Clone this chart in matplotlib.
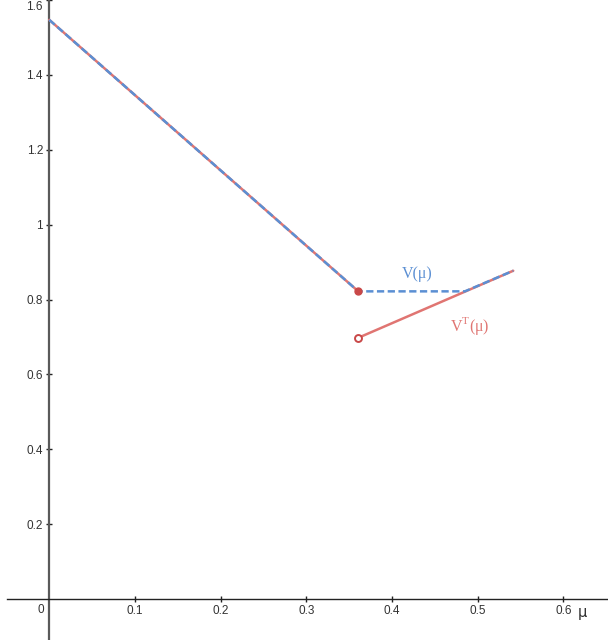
import matplotlib
matplotlib.use("Agg")
import matplotlib.pyplot as plt
from matplotlib.transforms import ScaledTranslation

plt.rcParams["mathtext.fontset"] = "custom"
plt.rcParams["mathtext.rm"] = "Liberation Serif"

# V(mu): value function (blue dashed)
mu_v = [0.0, 0.3606, 0.485, 0.5414]
v_vals = [1.547, 0.822, 0.822, 0.877]

# V^T(mu): two pieces (red)
mu_t1 = [0.0, 0.3606]
vt1 = [1.547, 0.822]
mu_t2 = [0.3606, 0.5414]
vt2 = [0.698, 0.877]

xticks = [0.1, 0.2, 0.3, 0.4, 0.5, 0.6]
yticks = [0.2, 0.4, 0.6, 0.8, 1.0, 1.2, 1.4, 1.6]
ytick_labels = ["0.2", "0.4", "0.6", "0.8", "1", "1.2", "1.4", "1.6"]

blue = "#5b8fd3"
red = "#e07572"
dot_red = "#c94848"

fig = plt.figure(figsize=(6.08, 6.4), dpi=100)
ax = fig.add_axes([0, 0, 1, 1])
ax.set_xlim(-0.0575, 0.652)
ax.set_ylim(-0.109, 1.597)

# axes through the origin
for side in ["top", "right"]:
    ax.spines[side].set_visible(False)
ax.spines["left"].set_position(("data", 0))
ax.spines["bottom"].set_position(("data", 0))
ax.spines["left"].set_color("#5a5a5a")
ax.spines["left"].set_linewidth(1.6)
ax.spines["bottom"].set_color("#222222")
ax.spines["bottom"].set_linewidth(1.0)
ax.spines["bottom"].set_bounds(-0.049, 0.652)

ax.set_xticks(xticks)
ax.set_xticklabels([str(t) for t in xticks])
ax.set_yticks(yticks)
ax.set_yticklabels(ytick_labels)
ax.tick_params(direction="inout", length=5, width=1, colors="#222222",
               labelsize=8.5, pad=2)
for lab in ax.get_xticklabels() + ax.get_yticklabels():
    lab.set_fontfamily("Liberation Sans")
    lab.set_color("#333333")
# top label sits at the very edge, nudge it down so it stays readable
top_lab = ax.get_yticklabels()[-1]
top_lab.set_transform(top_lab.get_transform() +
                      ScaledTranslation(0, -0.055, fig.dpi_scale_trans))

ax.text(-0.006, -0.014, "0", ha="right", va="top", fontsize=8.5,
        family="Liberation Sans", color="#333333")
ax.text(0.622, -0.015, "μ", ha="center", va="top", fontsize=10.5,
        family="DejaVu Sans", color="#333333")

# red curve V^T
ax.plot(mu_t1, vt1, color=red, lw=1.8, solid_capstyle="round", zorder=3)
ax.plot(mu_t2, vt2, color=red, lw=1.8, solid_capstyle="round", zorder=3)
# blue dashed V on top
ax.plot(mu_v, v_vals, color=blue, lw=1.8, dashes=(2.9, 1.4), zorder=4)

# end points
ax.plot(mu_t1[-1], vt1[-1], "o", ms=5, color=dot_red, zorder=5)
ax.plot(mu_t2[0], vt2[0], "o", ms=5, mfc="white", mec=dot_red, mew=1.4, zorder=5)

ax.text(0.429, 0.869, "V(μ)", color=blue, fontsize=11.5, family="Liberation Serif",
        ha="center", va="center")
ax.text(0.491, 0.729, "V$^{\\mathrm{T}}$(μ)", color=red, fontsize=11.5,
        family="Liberation Serif", ha="center", va="center")

fig.savefig("out.png", dpi=100)
